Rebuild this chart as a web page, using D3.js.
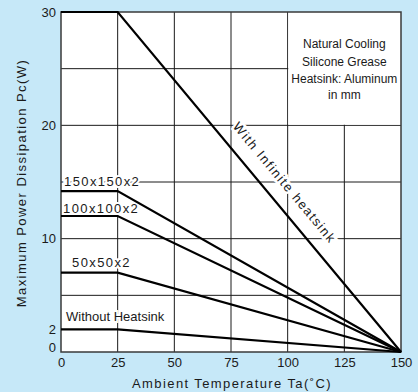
<!DOCTYPE html>
<html>
<head>
<meta charset="utf-8">
<script src="https://cdn.jsdelivr.net/npm/d3@7"></script>
<style>
  html, body { margin: 0; padding: 0; background: #c6e8f8; }
  svg { display: block; font-family: Arial, "Liberation Sans", sans-serif; }
</style>
</head>
<body>
<svg id="chart" width="418" height="392"></svg>
<script>
// ---- data ----
const temps = [0, 25, 150];
const infiniteHs = [30, 30, 0];
const hs150 = [14.2, 14.2, 0];
const hs100 = [12, 12, 0];
const hs50 = [7, 7, 0];
const noHs = [2, 2, 0];
const seriesNames = ["With Infinite heatsink", "150x150x2", "100x100x2", "50x50x2", "Without Heatsink"];
const xTicks = [0, 25, 50, 75, 100, 125, 150];
const yTicks = [0, 2, 10, 20, 30];
const xGrid = [25, 50, 75, 100, 125];
const yGrid = [5, 10, 15, 20, 25];
const noteLines = ["Natural Cooling", "Silicone Grease", "Heatsink: Aluminum", "in mm"];
const xTitle = "Ambient Temperature Ta(\u02DAC)";
const yTitle = "Maximum Power Dissipation Pc(W)";

// ---- layout ----
const svg = d3.select("#chart");
const x = d3.scaleLinear().domain([0, 150]).range([61, 401]);
const y = d3.scaleLinear().domain([0, 30]).range([352, 12]);
const ink = "#1a1a1a";

// plot background
svg.append("rect").attr("x", x(0)).attr("y", y(30))
  .attr("width", x(150) - x(0)).attr("height", y(0) - y(30)).attr("fill", "#fff");

// grid
svg.append("g").selectAll("line").data(xGrid).join("line")
  .attr("x1", d => x(d)).attr("x2", d => x(d)).attr("y1", y(0)).attr("y2", y(30))
  .attr("stroke", ink).attr("stroke-width", 1);
svg.append("g").selectAll("line").data(yGrid).join("line")
  .attr("x1", x(0)).attr("x2", x(150)).attr("y1", d => y(d)).attr("y2", d => y(d))
  .attr("stroke", ink).attr("stroke-width", 1);

// note cell (blank area in top-right)
svg.append("rect").attr("x", x(100) + 0.6).attr("y", y(30))
  .attr("width", x(150) - x(100) - 0.6).attr("height", y(20) - y(30) - 0.6).attr("fill", "#fff");

// note text
const noteX = (x(100) + x(150)) / 2;
const noteBase = [48, 65.5, 83, 99];
svg.append("g").selectAll("text").data(noteLines).join("text")
  .attr("x", noteX).attr("y", (d, i) => noteBase[i])
  .attr("text-anchor", "middle").attr("font-size", 12).attr("fill", ink)
  .text(d => d);

// series labels (flat ones)
const flatLabels = [
  { name: seriesNames[1], v: hs150[0], dx: 3, dy: -5, ls: 1.4 },
  { name: seriesNames[2], v: hs100[0], dx: 2, dy: -3, ls: 1.4 },
  { name: seriesNames[3], v: hs50[0], dx: 11, dy: -6, ls: 1.4 },
  { name: seriesNames[4], v: noHs[0], dx: 5, dy: -8, ls: 0 }
];
svg.append("g").selectAll("text").data(flatLabels).join("text")
  .attr("x", d => x(0) + d.dx).attr("y", d => y(d.v) + d.dy)
  .attr("font-size", 13).attr("fill", ink)
  .attr("letter-spacing", d => d.ls)
  .attr("stroke", "#fff").attr("stroke-width", 4).attr("paint-order", "stroke")
  .text(d => d.name);

// sloped label
const p0 = [x(temps[1]), y(infiniteHs[1])], p1 = [x(temps[2]), y(infiniteHs[2])];
const ang = Math.atan2(p1[1] - p0[1], p1[0] - p0[0]);
const along = 238, perp = 19;
const cx = p0[0] + Math.cos(ang) * along + Math.sin(ang) * perp;
const cy = p0[1] + Math.sin(ang) * along - Math.cos(ang) * perp;
svg.append("text")
  .attr("transform", `translate(${cx},${cy}) rotate(${ang * 180 / Math.PI})`)
  .attr("text-anchor", "middle").attr("dy", "0.35em")
  .attr("font-size", 13).attr("letter-spacing", 1.5).attr("fill", ink)
  .attr("stroke", "#fff").attr("stroke-width", 5).attr("paint-order", "stroke")
  .text(seriesNames[0]);

// frame
svg.append("rect").attr("x", x(0)).attr("y", y(30))
  .attr("width", x(150) - x(0)).attr("height", y(0) - y(30))
  .attr("fill", "none").attr("stroke", "#3a3a3a").attr("stroke-width", 1.5);

// series lines (on top)
const allSeries = [infiniteHs, hs150, hs100, hs50, noHs];
const line = d3.line().x(d => x(d[0])).y(d => y(d[1]));
svg.append("g").selectAll("path").data(allSeries).join("path")
  .attr("d", vals => line(temps.map((t, i) => [t, vals[i]])))
  .attr("fill", "none").attr("stroke", "#000").attr("stroke-width", 2.2)
  .attr("stroke-linejoin", "miter");

// axes labels
const xAxis = d3.axisBottom(x).tickValues(xTicks).tickSize(0).tickPadding(6).tickFormat(d3.format("d"));
const gx = svg.append("g").attr("transform", `translate(0,${y(0)})`).call(xAxis);
gx.select(".domain").remove();
gx.selectAll("text").attr("font-size", 13).attr("fill", ink).attr("font-family", null);

const yAxis = d3.axisLeft(y).tickValues(yTicks).tickSize(0).tickPadding(5).tickFormat(d3.format("d"));
const gy = svg.append("g").attr("transform", `translate(${x(0)},0)`).call(yAxis);
gy.select(".domain").remove();
gy.selectAll("text").attr("font-size", 13).attr("fill", ink).attr("font-family", null)
  .attr("dy", d => d === 0 ? "-0.05em" : "0.32em");

// titles
svg.append("text").attr("x", (x(0) + x(150)) / 2 + 1).attr("y", 388)
  .attr("text-anchor", "middle").attr("font-size", 13).attr("letter-spacing", 1.4)
  .attr("fill", ink).text(xTitle);
svg.append("text")
  .attr("transform", `translate(26,${(y(0) + y(30)) / 2 + 1}) rotate(-90)`)
  .attr("text-anchor", "middle").attr("font-size", 13).attr("letter-spacing", 1.45)
  .attr("fill", ink).text(yTitle);
</script>
</body>
</html>
